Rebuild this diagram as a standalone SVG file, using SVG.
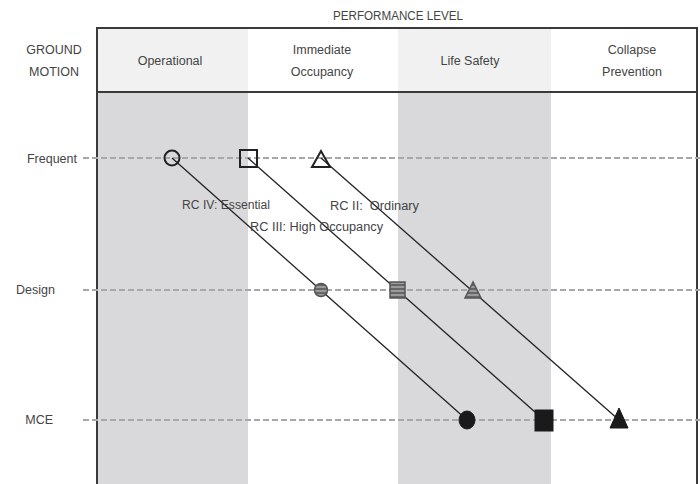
<svg xmlns="http://www.w3.org/2000/svg" width="700" height="484" viewBox="0 0 700 484">
  <style>
    text { font-family: "Liberation Sans", Arial, sans-serif; fill: #444; font-size: 12.5px; }
    .hdr { text-anchor: middle; }
    .lbl { text-anchor: end; }
    .grid { stroke: #a8a8a8; stroke-width: 2; stroke-dasharray: 6 3; fill: none; }
    .border { stroke: #3a3a3a; stroke-width: 2; fill: none; }
    .conn { stroke: #222; stroke-width: 1.3; fill: none; }
    .open { fill: none; stroke: #222; stroke-width: 2; }
    .hatch { fill: url(#hatch); stroke: #555; stroke-width: 1.5; }
    .solid { fill: #1a1a1a; stroke: #1a1a1a; stroke-width: 1; }
  </style>
  <defs>
    <pattern id="hatch" patternUnits="userSpaceOnUse" width="4" height="4">
      <rect width="4" height="4" fill="#9a9a9a"/>
      <line x1="0" y1="1" x2="4" y2="1" stroke="#444" stroke-width="1.2"/>
    </pattern>
  </defs>
  <rect width="700" height="484" fill="#ffffff"/>
  <g id="columns">
    <rect x="97" y="28" width="151" height="64" fill="#f1f1f1"/>
    <rect x="398" y="28" width="153" height="64" fill="#f1f1f1"/>
    <rect x="97" y="92" width="151" height="392" fill="#d9d9db"/>
    <rect x="398" y="92" width="153" height="392" fill="#d9d9db"/>
  </g>
  <g id="frame">
    <line class="border" x1="97" y1="28" x2="698" y2="28"/>
    <line class="border" x1="97" y1="92" x2="698" y2="92"/>
    <line class="border" x1="97" y1="27" x2="97" y2="484"/>
    <line class="border" x1="697" y1="27" x2="697" y2="484"/>
  </g>
  <g id="headers">
    <text class="hdr" x="398" y="20" font-size="11.5" textLength="130" lengthAdjust="spacingAndGlyphs">PERFORMANCE LEVEL</text>
    <text class="hdr" x="54" y="54">GROUND</text>
    <text class="hdr" x="54" y="76">MOTION</text>
    <text class="hdr" x="170" y="65">Operational</text>
    <text class="hdr" x="322" y="54">Immediate</text>
    <text class="hdr" x="322" y="76">Occupancy</text>
    <text class="hdr" x="470" y="65">Life Safety</text>
    <text class="hdr" x="632" y="54">Collapse</text>
    <text class="hdr" x="632" y="76">Prevention</text>
  </g>
  <g id="levels">
    <text class="lbl" x="77" y="163">Frequent</text>
    <text class="lbl" x="55" y="294">Design</text>
    <text class="lbl" x="53" y="424">MCE</text>
    <line class="grid" x1="83" y1="158" x2="700" y2="158"/>
    <line class="grid" x1="83" y1="290" x2="700" y2="290"/>
    <line class="grid" x1="83" y1="420" x2="700" y2="420"/>
  </g>
  <g id="connectors">
    <line class="conn" x1="172" y1="158" x2="467" y2="420"/>
    <line class="conn" x1="248" y1="158" x2="544" y2="420"/>
    <line class="conn" x1="321" y1="158" x2="619" y2="420"/>
  </g>
  <g id="rc4">
    <circle class="open" cx="172" cy="158" r="7.5" fill="#d9d9db"/>
    <circle class="hatch" cx="321" cy="290" r="6.5"/>
    <ellipse class="solid" cx="467" cy="420" rx="8" ry="9"/>
  </g>
  <g id="rc3">
    <rect class="open" x="240" y="150" width="17" height="17" fill="#fff"/>
    <rect class="hatch" x="390" y="282" width="15" height="16"/>
    <rect class="solid" x="535" y="410" width="18" height="21"/>
  </g>
  <g id="rc2">
    <polygon class="open" points="321,151 312,167 330,167" fill="#fff"/>
    <polygon class="hatch" points="473,282 465,298 481,298"/>
    <polygon class="solid" points="619,408 610,428 628,428"/>
  </g>
  <g id="labels">
    <text x="182" y="209" font-size="12" textLength="88" lengthAdjust="spacingAndGlyphs">RC IV: Essential</text>
    <text x="330" y="210" font-size="12" textLength="89" lengthAdjust="spacingAndGlyphs" xml:space="preserve">RC II:  Ordinary</text>
    <text x="250" y="231" font-size="12" textLength="133" lengthAdjust="spacingAndGlyphs">RC III: High Occupancy</text>
  </g>
</svg>
